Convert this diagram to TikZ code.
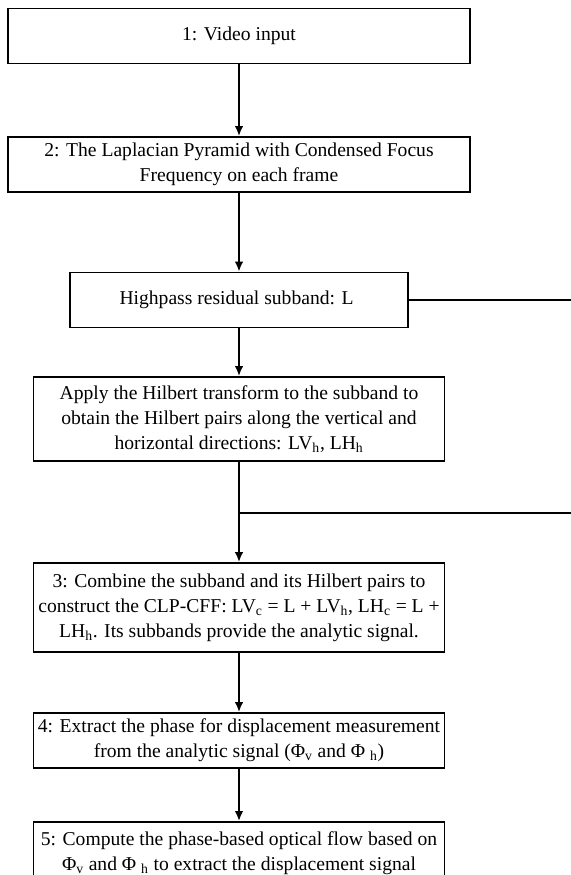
\documentclass[tikz,border=0pt]{standalone}
\usepackage{fontspec}
\setmainfont{Liberation Serif}
\usetikzlibrary{arrows.meta}

\begin{document}
\begin{tikzpicture}[
    x=0.75pt,y=0.75pt,
    yscale=-1,xscale=1,
    font = \fontsize{14.7}{18.75}\selectfont,
    every path/.append style ={line width = 1.4pt,},
    stepbox/.style ={draw, align=center, inner sep=0pt, minimum height=41.25pt},
    wide/.style ={stepbox, minimum width=346.5pt},
    mid/.style ={stepbox, minimum width=308.25pt},
    flowarrow/.style ={-{Latex[length=7.5pt,width=6.5pt]}},
]

    % 边界
    \useasboundingbox [fill=white] (0,0) rectangle (571,875);

    % 方框
    \node [wide] (video) at (239,36) {1: Video input};
    \node [wide] (pyramid) at (239,164.5) {
        2: The Laplacian Pyramid with Condensed Focus\\Frequency on each frame
    };
    \node [stepbox, minimum width=253.5pt] (residual) at (239,300) {
        Highpass residual subband: L
    };
    \node [mid, minimum height=63pt] (hilbert) at (239,419) {
        Apply the Hilbert transform to the subband to\\
        obtain the Hilbert pairs along the vertical and\\
        horizontal directions: LV\textsubscript{h}, LH\textsubscript{h}
    };
    \node [mid, minimum height=66.75pt] (combine) at (239,607.5) {
        3: Combine the subband and its Hilbert pairs to\\
        construct the CLP-CFF: LV\textsubscript{c} = L + LV\textsubscript{h}, LH\textsubscript{c} = L +\\
        LH\textsubscript{h}. Its subbands provide the analytic signal.
    };
    \node [mid] (phase) at (239,740.5) {
        4: Extract the phase for displacement measurement\\
        from the analytic signal (Φ\textsubscript{v} and Φ \textsubscript{h})
    };
    \node [mid, minimum height=46.5pt, anchor=north] (flow) at (239,821) {
        5: Compute the phase-based optical flow based on\\
        Φ\textsubscript{v} and Φ \textsubscript{h} to extract the displacement signal
    };

    % 坐标
    \coordinate (resout) at (571,300);
    \coordinate (split) at (239,513);
    \coordinate (splitout) at (571,513);

    % 箭头
    \draw [flowarrow] (video) -- (pyramid);
    \draw [flowarrow] (pyramid) -- (residual);
    \draw (residual) -- (resout);
    \draw [flowarrow] (residual) -- (hilbert);
    \draw (hilbert) -- (split);
    \draw (split) -- (splitout);
    \draw [flowarrow] (split) -- (combine);
    \draw [flowarrow] (combine) -- (phase);
    \draw [flowarrow] (phase) -- (flow);
\end{tikzpicture}
\end{document}
